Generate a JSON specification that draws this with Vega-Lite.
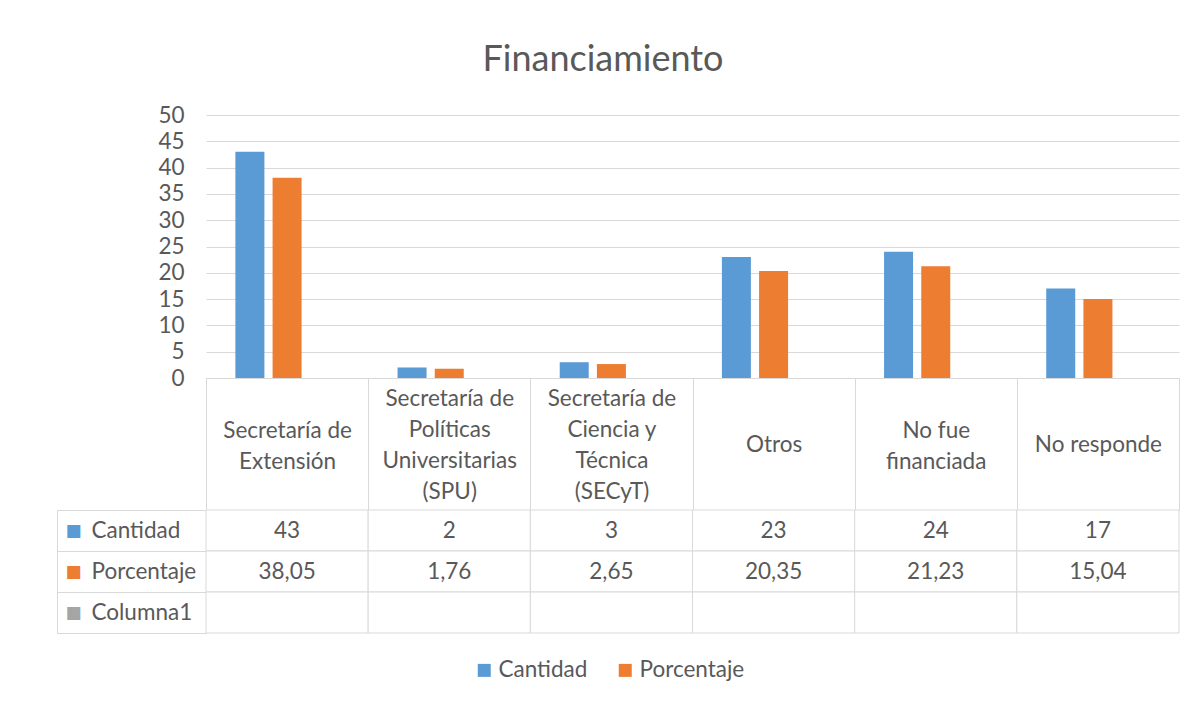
{
  "$schema": "https://vega.github.io/schema/vega-lite/v6.json",
  "padding": {"left": 56, "top": 42, "right": 5, "bottom": 5},
  "background": "white",
  "title": {"text": "Financiamiento", "fontSize": 36, "font": "Lato", "fontWeight": "normal", "color": "#595959", "anchor": "middle", "offset": 25, "dx": -15},
  "datasets": {
    "d": [
      {"categoria": "Secretaría de Extensión", "serie": "Cantidad", "valor": 43},
      {"categoria": "Secretaría de Extensión", "serie": "Porcentaje", "valor": 38.05},
      {"categoria": "Secretaría de Extensión", "serie": "Columna1", "valor": null},
      {"categoria": "Secretaría de Políticas Universitarias (SPU)", "serie": "Cantidad", "valor": 2},
      {"categoria": "Secretaría de Políticas Universitarias (SPU)", "serie": "Porcentaje", "valor": 1.76},
      {"categoria": "Secretaría de Políticas Universitarias (SPU)", "serie": "Columna1", "valor": null},
      {"categoria": "Secretaría de Ciencia y Técnica (SECyT)", "serie": "Cantidad", "valor": 3},
      {"categoria": "Secretaría de Ciencia y Técnica (SECyT)", "serie": "Porcentaje", "valor": 2.65},
      {"categoria": "Secretaría de Ciencia y Técnica (SECyT)", "serie": "Columna1", "valor": null},
      {"categoria": "Otros", "serie": "Cantidad", "valor": 23},
      {"categoria": "Otros", "serie": "Porcentaje", "valor": 20.35},
      {"categoria": "Otros", "serie": "Columna1", "valor": null},
      {"categoria": "No fue financiada", "serie": "Cantidad", "valor": 24},
      {"categoria": "No fue financiada", "serie": "Porcentaje", "valor": 21.23},
      {"categoria": "No fue financiada", "serie": "Columna1", "valor": null},
      {"categoria": "No responde", "serie": "Cantidad", "valor": 17},
      {"categoria": "No responde", "serie": "Porcentaje", "valor": 15.04},
      {"categoria": "No responde", "serie": "Columna1", "valor": null}
    ]
  },
  "spacing": 132,
  "bounds": "flush",
  "resolve": {"scale": {"color": "shared"}, "legend": {"color": "shared"}},
  "vconcat": [
    {
      "width": 973,
      "height": 263,
      "data": {"name": "d"},
      "mark": {"type": "bar"},
      "encoding": {
        "x": {
          "field": "categoria", "type": "nominal", "sort": null,
          "scale": {"domain": ["Secretaría de Extensión", "Secretaría de Políticas Universitarias (SPU)", "Secretaría de Ciencia y Técnica (SECyT)", "Otros", "No fue financiada", "No responde"], "paddingInner": 0, "paddingOuter": 0},
          "axis": {
            "title": null, "orient": "bottom", "grid": false,
            "domain": true, "domainColor": "#d9d9d9", "domainWidth": 1,
            "ticks": true, "tickBand": "extent", "tickSize": 132, "tickColor": "#d9d9d9", "tickWidth": 1,
            "labelAngle": 0, "labelAlign": "center", "labelBaseline": "middle", "labelLineHeight": 31,
            "labelPadding": {"expr": "datum.value == 'Secretaría de Políticas Universitarias (SPU)' || datum.value == 'Secretaría de Ciencia y Técnica (SECyT)' ? -112 : datum.value == 'Secretaría de Extensión' || datum.value == 'No fue financiada' ? -80 : -66"},
            "labelFontSize": 22.5, "labelColor": "#595959", "labelFont": "Lato",
            "labelOverlap": false, "labelBound": false, "labelFlush": false, "labelLimit": 0,
            "labelExpr": "datum.value == 'Secretaría de Extensión' ? ['Secretaría de', 'Extensión'] : datum.value == 'Secretaría de Políticas Universitarias (SPU)' ? ['Secretaría de', 'Políticas', 'Universitarias', '(SPU)'] : datum.value == 'Secretaría de Ciencia y Técnica (SECyT)' ? ['Secretaría de', 'Ciencia y', 'Técnica', '(SECyT)'] : datum.value == 'No fue financiada' ? ['No fue', 'financiada'] : datum.label"
          }
        },
        "xOffset": {
          "field": "serie", "type": "nominal",
          "scale": {"domain": ["Cantidad", "Porcentaje", "Columna1"], "paddingInner": 0.22, "paddingOuter": 0.79}
        },
        "y": {
          "field": "valor", "type": "quantitative",
          "scale": {"domain": [0, 50], "nice": false, "zero": true},
          "axis": {
            "title": null, "values": [0, 5, 10, 15, 20, 25, 30, 35, 40, 45, 50],
            "domain": false, "ticks": false, "grid": true, "gridColor": "#d9d9d9", "gridWidth": 1,
            "labelPadding": 22, "labelFontSize": 22.5, "labelColor": "#595959", "labelFont": "Lato"
          }
        },
        "color": {
          "field": "serie", "type": "nominal",
          "scale": {"domain": ["Cantidad", "Porcentaje", "Columna1"], "range": ["#5B9BD5", "#ED7D31", "#A5A5A5"]},
          "legend": {
            "title": null, "values": ["Cantidad", "Porcentaje"], "orient": "none", "direction": "horizontal",
            "legendX": 267, "legendY": 544,
            "symbolType": "square", "symbolSize": 169, "symbolStrokeWidth": 0, "symbolOpacity": 1,
            "labelFontSize": 22.5, "labelColor": "#595959", "labelFont": "Lato", "labelOffset": 3,
            "columnPadding": 26
          }
        }
      }
    },
    {
      "width": 973,
      "height": 123,
      "data": {"name": "d"},
      "encoding": {
        "x": {
          "field": "categoria", "type": "nominal", "sort": null,
          "scale": {"domain": ["Secretaría de Extensión", "Secretaría de Políticas Universitarias (SPU)", "Secretaría de Ciencia y Técnica (SECyT)", "Otros", "No fue financiada", "No responde"], "paddingInner": 0, "paddingOuter": 0},
          "axis": null
        }
      },
      "layer": [
        {
          "mark": {"type": "rect", "fill": "white", "stroke": "#d9d9d9", "strokeWidth": 1},
          "encoding": {
            "y": {
              "field": "serie", "type": "nominal",
              "scale": {"domain": ["Cantidad", "Porcentaje", "Columna1"], "paddingInner": 0, "paddingOuter": 0},
              "axis": {
                "title": null, "orient": "left", "offset": 149,
                "domain": true, "domainColor": "#d9d9d9", "domainWidth": 1,
                "ticks": false, "grid": false,
                "labelExpr": "'■'", "labelAlign": "left", "labelBaseline": "middle", "labelPadding": -8,
                "labelFont": "DejaVu Sans", "labelFontSize": 17,
                "labelColor": {"expr": "datum.value == 'Cantidad' ? '#5B9BD5' : datum.value == 'Porcentaje' ? '#ED7D31' : '#A5A5A5'"}
              }
            }
          }
        },
        {
          "transform": [{"filter": "datum.valor != null"}],
          "mark": {"type": "text", "fontSize": 22.5, "color": "#595959", "font": "Lato", "align": "center", "baseline": "middle"},
          "encoding": {
            "y": {
              "field": "serie", "type": "nominal",
              "scale": {"domain": ["Cantidad", "Porcentaje", "Columna1"], "paddingInner": 0, "paddingOuter": 0},
              "axis": {
                "title": null, "orient": "left",
                "domain": false, "grid": false,
                "ticks": true, "tickBand": "extent", "tickSize": 149, "tickColor": "#d9d9d9", "tickWidth": 1,
                "labelAlign": "left", "labelBaseline": "middle", "labelPadding": -34,
                "labelFont": "Lato", "labelFontSize": 22.5, "labelColor": "#595959"
              }
            },
            "text": {"field": "valor", "type": "quantitative", "format": "~f"}
          }
        }
      ],
      "resolve": {"axis": {"y": "independent"}}
    }
  ],
  "config": {
    "font": "Lato",
    "view": {"stroke": null},
    "locale": {"number": {"decimal": ",", "thousands": ".", "grouping": [3], "currency": ["", " €"]}}
  }
}
